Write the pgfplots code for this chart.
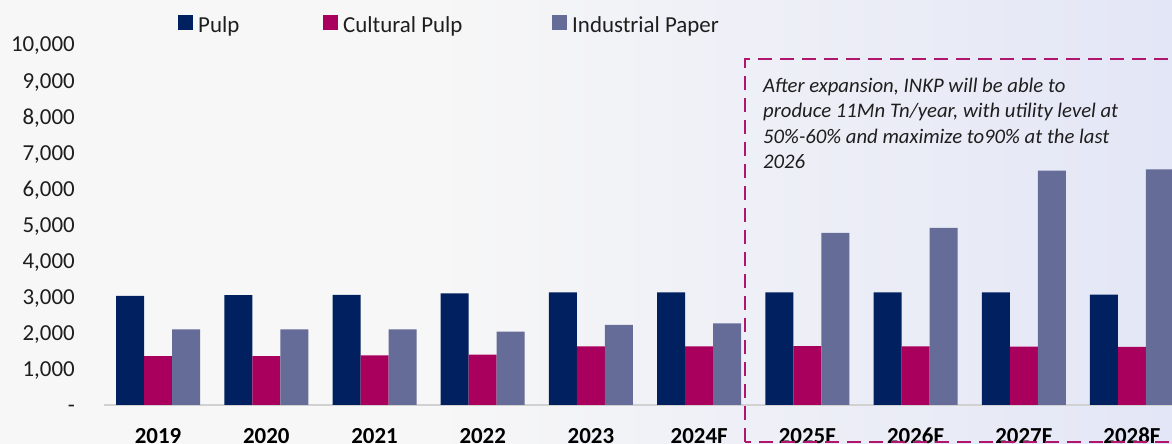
\documentclass[border=0pt]{standalone}
\usepackage{fontspec}
\setmainfont{Carlito}
\usepackage{pgfplots}
\pgfplotsset{compat=1.18}

\definecolor{pulp}{HTML}{002060}
\definecolor{cult}{HTML}{A8005C}
\definecolor{indp}{HTML}{666C98}
\definecolor{boxc}{HTML}{B0166E}
\definecolor{bgL}{HTML}{F7F7F7}
\definecolor{bgR}{HTML}{E3E6F6}
\definecolor{txt}{HTML}{1E1E1E}

\begin{document}
\begin{tikzpicture}[x=1bp,y=1bp]
\useasboundingbox (0,0) rectangle (1172,444);
\fill[bgL] (0,0) rectangle (1172,444);
\shade[left color=bgL, right color=bgR] (430,0) rectangle (1172,444);

\begin{axis}[
  at={(104bp,39bp)}, anchor=south west,
  scale only axis, width=1068bp, height=361bp,
  xmin=-0.5, xmax=9.37, ymin=0, ymax=10000,
  ybar=0pt, bar width=28bp,
  axis x line*=bottom, axis y line*=left,
  x axis line style={draw=black!18, line width=2bp, -},
  y axis line style={draw=none},
  tick style={draw=none},
  scaled y ticks=false,
  xtick={0,...,9},
  xticklabels={2019,2020,2021,2022,2023,2024F,2025F,2026F,2027F,2028F},
  xticklabel style={font=\fontsize{23}{27}\selectfont\bfseries, text=black, anchor=base, inner sep=0pt, text depth=0pt, yshift=-34bp},
  ytick={0,1000,...,10000},
  yticklabels={{-\hspace{10bp}},{1,000},{2,000},{3,000},{4,000},{5,000},{6,000},{7,000},{8,000},{9,000},{10,000}},
  yticklabel style={font=\fontsize{23}{27}\selectfont, text=txt, anchor=base east, inner sep=0pt, xshift=-29bp, yshift=-8bp},
  legend style={at={(0.0693,1.054)}, anchor=west, draw=none, fill=none,
    inner sep=0pt, font=\fontsize{23}{27}\selectfont, text=txt,
    legend columns=3, nodes={inner sep=0pt}},
  legend image code/.code={\fill[#1] (0bp,-4bp) rectangle (15bp,11bp);},
]
\addplot[fill=pulp, draw=none] coordinates {
  (0,3020) (1,3040) (2,3047) (3,3093) (4,3121) (5,3121) (6,3121) (7,3121) (8,3121) (9,3056)};
\addplot[fill=cult, draw=none] coordinates {
  (0,1357) (1,1357) (2,1376) (3,1394) (4,1625) (5,1625) (6,1634) (7,1625) (8,1616) (9,1607)};
\addplot[fill=indp, draw=none] coordinates {
  (0,2097) (1,2097) (2,2097) (3,2031) (4,2216) (5,2262) (6,4765) (7,4903) (8,6490) (9,6529)};
\legend{\makebox[130bp][l]{\hspace{5bp}Pulp},\makebox[214bp][l]{\hspace{5bp}Cultural Pulp},\hspace{5bp}Industrial Paper}
\end{axis}

\draw[boxc, line width=2bp, dash pattern=on 14bp off 8bp] (745,2) rectangle (1190,385);
\node[anchor=north west, inner sep=0pt, align=left, text=txt,
  font=\fontsize{20.8}{25.5}\selectfont\itshape] at (763,366)
  {After expansion, INKP will be able to\\
   produce 11Mn Tn/year, with utility level at\\
   50\%-60\% and maximize to90\% at the last\\
   2026};
\end{tikzpicture}
\end{document}
